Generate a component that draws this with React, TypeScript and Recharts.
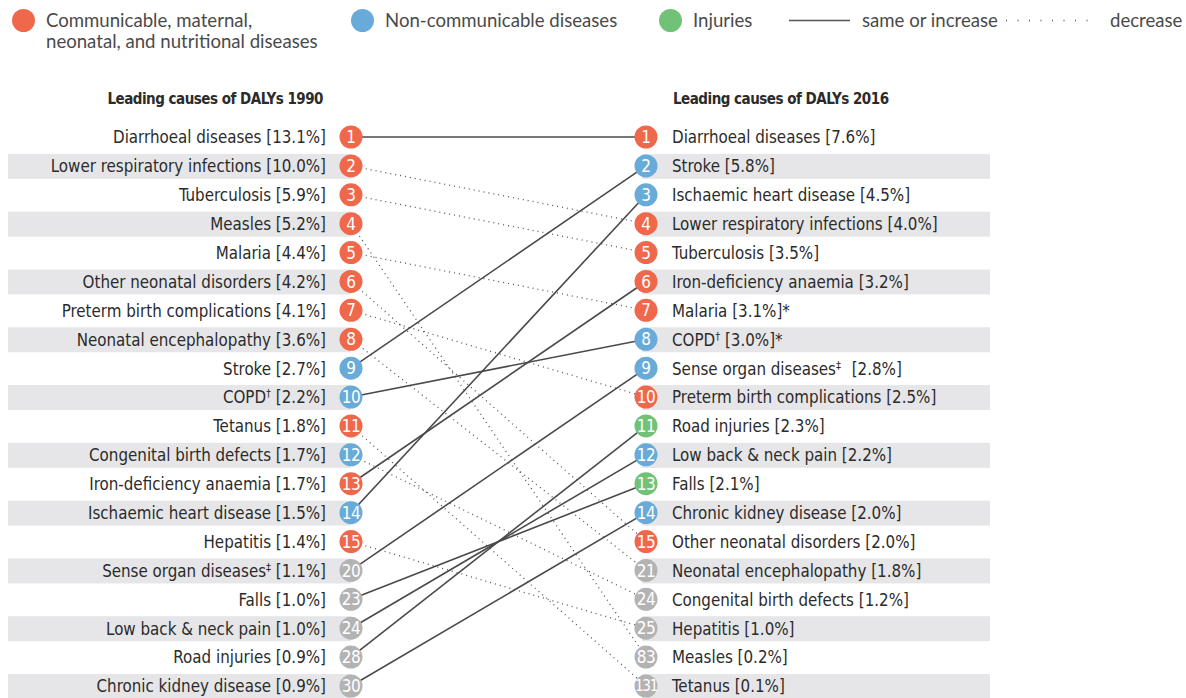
import React from "react";
import { ScatterChart, Scatter, XAxis, YAxis } from "recharts";

// 1990 ranking (top 15 + causes that entered the 2016 top 15)
const causes1990 = [
  "Diarrhoeal diseases",
  "Lower respiratory infections",
  "Tuberculosis",
  "Measles",
  "Malaria",
  "Other neonatal disorders",
  "Preterm birth complications",
  "Neonatal encephalopathy",
  "Stroke",
  "COPD†",
  "Tetanus",
  "Congenital birth defects",
  "Iron-deficiency anaemia",
  "Ischaemic heart disease",
  "Hepatitis",
  "Sense organ diseases‡",
  "Falls",
  "Low back & neck pain",
  "Road injuries",
  "Chronic kidney disease",
];
const pct1990 = [13.1, 10.0, 5.9, 5.2, 4.4, 4.2, 4.1, 3.6, 2.7, 2.2, 1.8, 1.7, 1.7, 1.5, 1.4, 1.1, 1.0, 1.0, 0.9, 0.9];
const rank1990 = [1, 2, 3, 4, 5, 6, 7, 8, 9, 10, 11, 12, 13, 14, 15, 20, 23, 24, 28, 30];

// 2016 ranking
const causes2016 = [
  "Diarrhoeal diseases",
  "Stroke",
  "Ischaemic heart disease",
  "Lower respiratory infections",
  "Tuberculosis",
  "Iron-deficiency anaemia",
  "Malaria",
  "COPD†",
  "Sense organ diseases‡",
  "Preterm birth complications",
  "Road injuries",
  "Low back & neck pain",
  "Falls",
  "Chronic kidney disease",
  "Other neonatal disorders",
  "Neonatal encephalopathy",
  "Congenital birth defects",
  "Hepatitis",
  "Measles",
  "Tetanus",
];
const pct2016 = [7.6, 5.8, 4.5, 4.0, 3.5, 3.2, 3.1, 3.0, 2.8, 2.5, 2.3, 2.2, 2.1, 2.0, 2.0, 1.8, 1.2, 1.0, 0.2, 0.1];
const rank2016 = [1, 2, 3, 4, 5, 6, 7, 8, 9, 10, 11, 12, 13, 14, 15, 21, 24, 25, 83, 131];
const notes2016: Record<string, string> = { Malaria: "*", "COPD†": "*", "Sense organ diseases‡": " " };

// cause groups: C = communicable etc., N = non-communicable, I = injuries
const causeGroup: Record<string, string> = {
  "Diarrhoeal diseases": "C",
  "Lower respiratory infections": "C",
  Tuberculosis: "C",
  Measles: "C",
  Malaria: "C",
  "Other neonatal disorders": "C",
  "Preterm birth complications": "C",
  "Neonatal encephalopathy": "C",
  Stroke: "N",
  "COPD†": "N",
  Tetanus: "C",
  "Congenital birth defects": "N",
  "Iron-deficiency anaemia": "C",
  "Ischaemic heart disease": "N",
  Hepatitis: "C",
  "Sense organ diseases‡": "N",
  Falls: "I",
  "Low back & neck pain": "N",
  "Road injuries": "I",
  "Chronic kidney disease": "N",
};

const COLORS: Record<string, string> = { C: "#ef684b", N: "#68aad8", I: "#71c276" };
const GREY = "#b3b3b3";
const TEXT = "#2b2b2b";
const BAND = "#e6e6e8";
const FONT = "'Liberation Sans Narrow', 'DejaVu Sans Condensed', sans-serif";

const leftRows = causes1990.map((name, i) => ({
  x: 0,
  y: i + 1,
  name,
  pct: pct1990[i],
  rank: rank1990[i],
  note: "",
}));
const rightRows = causes2016.map((name, i) => ({
  x: 1,
  y: i + 1,
  name,
  pct: pct2016[i],
  rank: rank2016[i],
  note: notes2016[name] || "",
}));

const links = causes1990.map((name, i) => {
  const j = causes2016.indexOf(name);
  return {
    name,
    up: rank2016[j] <= rank1990[i],
    data: [
      { x: 0, y: i + 1 },
      { x: 1, y: j + 1 },
    ],
  };
});

function Label({ name, pct, note }: { name: string; pct: number; note: string }) {
  const last = name.slice(-1);
  const sup = last === "†" || last === "‡";
  const base = sup ? name.slice(0, -1) : name;
  return (
    <>
      {base}
      {sup && (
        <tspan fontSize={11} dy={-6}>
          {last}
        </tspan>
      )}
      <tspan dy={sup ? 6 : 0} dx={note === " " ? 6 : 0}>
        {` [${pct.toFixed(1)}%]${note === "*" ? "*" : ""}`}
      </tspan>
    </>
  );
}

function RowShape(props: any) {
  const { cx, cy, payload } = props;
  const left = payload.x === 0;
  const fill = payload.rank > 15 ? GREY : COLORS[causeGroup[payload.name]];
  const striped = payload.y % 2 === 0;
  return (
    <g>
      {striped &&
        (left ? (
          <rect x={cx - 343} y={cy - 12} width={343} height={25} fill={BAND} />
        ) : (
          <rect x={cx - 4} y={cy - 12} width={348} height={25} fill={BAND} />
        ))}
      <circle cx={cx} cy={cy} r={11.5} fill={fill} />
      <text
        x={cx}
        y={cy}
        dy="0.36em"
        textAnchor="middle"
        fill="#fff"
        fontSize={payload.rank > 99 ? 15 : 17}
        fontFamily={FONT}
        letterSpacing={payload.rank > 99 ? -1.2 : -0.4}
      >
        {payload.rank}
      </text>
      <text
        x={left ? cx - 25 : cx + 26}
        y={cy}
        dy="0.38em"
        textAnchor={left ? "end" : "start"}
        fill={TEXT}
        fontSize={16.8}
        fontFamily={FONT}
      >
        <Label name={payload.name} pct={payload.pct} note={payload.note} />
      </text>
    </g>
  );
}

const NoDot = () => <g />;

const legendText: React.CSSProperties = {
  position: "absolute",
  fontFamily: "Lato, 'Noto Sans', sans-serif",
  fontSize: 18.6,
  lineHeight: "20px",
  color: "#4a4a4a",
  whiteSpace: "nowrap",
};

const headerText: React.CSSProperties = {
  position: "absolute",
  top: 90,
  fontFamily: FONT,
  fontWeight: 700,
  fontSize: 15,
  letterSpacing: -0.5,
  color: TEXT,
  whiteSpace: "nowrap",
};

function LegendDot({ left, color }: { left: number; color: string }) {
  return (
    <div
      style={{
        position: "absolute",
        left,
        top: 9,
        width: 23,
        height: 23,
        borderRadius: "50%",
        background: color,
      }}
    />
  );
}

export default function App() {
  return (
    <div
      style={{
        position: "absolute",
        left: 0,
        top: 0,
        width: 1186,
        height: 698,
        background: "#fff",
        overflow: "hidden",
      }}
    >
      <LegendDot left={12} color={COLORS.C} />
      <div style={{ ...legendText, left: 46, top: 10 }}>Communicable, maternal,</div>
      <div style={{ ...legendText, left: 46, top: 31 }}>neonatal, and nutritional diseases</div>
      <LegendDot left={351} color={COLORS.N} />
      <div style={{ ...legendText, left: 385, top: 10 }}>Non-communicable diseases</div>
      <LegendDot left={659} color={COLORS.I} />
      <div style={{ ...legendText, left: 693, top: 10 }}>Injuries</div>
      <svg style={{ position: "absolute", left: 780, top: 10 }} width={340} height={20}>
        <line x1={9} x2={70} y1={10.5} y2={10.5} stroke="#555" strokeWidth={1.4} />
        <line x1={226} x2={316} y1={10.5} y2={10.5} stroke="#555" strokeWidth={1.3} strokeDasharray="1 10.5" />
      </svg>
      <div style={{ ...legendText, left: 862, top: 10 }}>same or increase</div>
      <div style={{ ...legendText, left: 1110, top: 10 }}>decrease</div>

      <div style={{ ...headerText, right: 1186 - 323 }}>Leading causes of DALYs 1990</div>
      <div style={{ ...headerText, left: 673 }}>Leading causes of DALYs 2016</div>

      <div style={{ position: "absolute", left: 0, top: 0 }}>
        <ScatterChart width={1186} height={698} margin={{ top: 137, bottom: 12, left: 351, right: 540 }}>
          <XAxis type="number" dataKey="x" domain={[0, 1]} hide />
          <YAxis type="number" dataKey="y" domain={[1, 20]} reversed hide />
          {links.map((l) => (
            <Scatter
              key={l.name}
              data={l.data}
              fill="#4a4a4a"
              line={{
                stroke: l.up ? "#4a4a4a" : "#555",
                strokeWidth: l.up ? 1.6 : 1.3,
                strokeDasharray: l.up ? undefined : "1 4",
              }}
              shape={NoDot}
              isAnimationActive={false}
            />
          ))}
          <Scatter data={leftRows} shape={RowShape} isAnimationActive={false} />
          <Scatter data={rightRows} shape={RowShape} isAnimationActive={false} />
        </ScatterChart>
      </div>
    </div>
  );
}
